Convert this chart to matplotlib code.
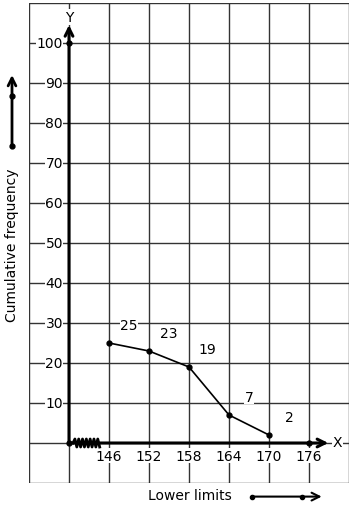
import numpy as np
import matplotlib.pyplot as plt

# less-than ogive style data
lower_limits = [146, 152, 158, 164, 170]
cum_freq = [25, 23, 19, 7, 2]
x_ticks = [146, 152, 158, 164, 170, 176]
y_ticks = [10, 20, 30, 40, 50, 60, 70, 80, 90, 100]

# where the value labels sit beside each point
label_x = [149, 155, 160.8, 167, 173]
label_y = [29.5, 27.5, 23.5, 11.5, 6.5]

fig = plt.figure(figsize=(3.54, 5.10), dpi=100)
ax = fig.add_axes([29 / 354, 26 / 510, 320 / 354, 480 / 510])
ax.set_xlim(134, 182)
ax.set_ylim(-10, 110)

# square graph-paper grid
for gx in np.arange(134, 183, 6):
    ax.axvline(gx, color='#333333', lw=1.0, zorder=1)
for gy in np.arange(-10, 111, 10):
    ax.axhline(gy, color='#333333', lw=1.0, zorder=1)
ax.set_xticks([])
ax.set_yticks([])
for s in ax.spines.values():
    s.set_visible(False)

# main axes with arrow heads
ax.annotate('', xy=(140, 104.5), xytext=(140, 0),
            arrowprops=dict(arrowstyle='->', lw=2.2, color='black',
                            mutation_scale=14, shrinkA=0, shrinkB=0), zorder=4)
ax.annotate('', xy=(178.9, 0), xytext=(140, 0),
            arrowprops=dict(arrowstyle='->', lw=2.2, color='black',
                            mutation_scale=14, shrinkA=0, shrinkB=0), zorder=4)
ax.text(140.1, 106.5, 'Y', ha='center', va='center', fontsize=10,
        bbox=dict(fc='white', ec='none', pad=0.5), zorder=5)
ax.text(180.3, 0.3, 'X', ha='center', va='center', fontsize=10,
        bbox=dict(fc='white', ec='none', pad=0.5), zorder=5)
ax.plot([140, 140, 176], [0, 100, 0], 'o', color='black', ms=3.5, zorder=6)

# kink on the x axis
zx = np.linspace(140.6, 144.6, 15)
zy = np.tile([0.0, 1.0, -1.0, 0.0], 4)[:15]
zy = np.where(np.arange(15) % 2 == 0, -1.0, 1.0)
zy[0] = 0
ax.plot(zx, zy, color='black', lw=2.0, zorder=5)

# tick labels
for t in y_ticks:
    ax.text(139.1, t, str(t), ha='right', va='center', fontsize=10,
            bbox=dict(fc='white', ec='none', pad=0.3), zorder=3)
for t in x_ticks:
    ax.text(t, -3.2, str(t), ha='center', va='center', fontsize=10,
            bbox=dict(fc='white', ec='none', pad=0.3), zorder=3)

# the ogive
ax.plot(lower_limits, cum_freq, '-o', color='black', lw=1.2, ms=3.5, zorder=6)
for lx, ly, v in zip(label_x, label_y, cum_freq):
    ax.text(lx, ly, str(v), ha='center', va='center', fontsize=10,
            bbox=dict(fc='white', ec='none', pad=0.3), zorder=5)

# side captions with little arrows
ax.text(131.4, 49.8, 'Cumulative frequency', rotation=90, ha='center',
        va='center', fontsize=10, clip_on=False)
ax.annotate('', xy=(131.45, 92), xytext=(131.45, 74.2), annotation_clip=False,
            arrowprops=dict(arrowstyle='->', lw=2.0, color='black',
                            mutation_scale=14, shrinkA=0, shrinkB=0))
ax.plot([131.45, 131.45], [74.2, 86.8], 'o', color='black', ms=3.5, clip_on=False)

ax.text(158.2, -13, 'Lower limits', ha='center', va='center', fontsize=10,
        clip_on=False)
ax.annotate('', xy=(177.9, -13.4), xytext=(167.4, -13.4), annotation_clip=False,
            arrowprops=dict(arrowstyle='->', lw=1.5, color='black',
                            mutation_scale=14, shrinkA=0, shrinkB=0))
ax.plot([167.4, 174.95], [-13.4, -13.4], 'o', color='black', ms=3.0, clip_on=False)

fig.savefig('out.png', dpi=100)
